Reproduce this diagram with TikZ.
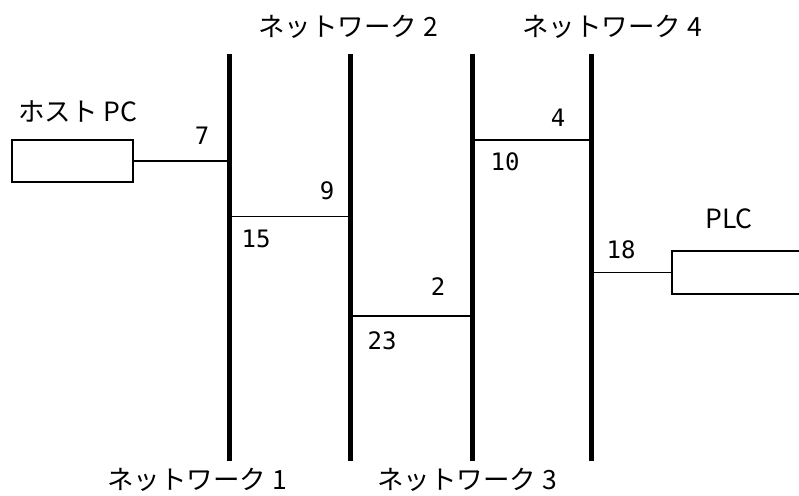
\documentclass[tikz,border=0pt]{standalone}
\usepackage{fontspec}
\newfontfamily\jp{Noto Sans CJK JP}
\newfontfamily\num{DejaVu Sans Mono}
\begin{document}
\begin{tikzpicture}[x=1pt,y=-1pt,
  bus/.style={line width=5pt},
  link/.style={line width=1.8pt},
  dev/.style={draw,line width=1.8pt,minimum width=121pt,minimum height=42pt,inner sep=0pt},
  lab/.style={font=\jp\fontsize{26.5}{30}\selectfont,inner sep=0pt},
  numlab/.style={font=\num\fontsize{24}{26}\selectfont,inner sep=0pt}]
\useasboundingbox (0,0) rectangle (799,495);
% buses
\foreach \n/\x in {1/229,2/350,3/472,4/591}{
  \coordinate (t\n) at (\x,54);
  \coordinate (b\n) at (\x,461);
  \draw[bus] (t\n) -- (b\n);
}
% devices
\node[dev] (host) at (72.5,161) {};
\node[dev,minimum width=140pt,minimum height=43pt] (plc) at (742,272.5) {};
% tap points
\coordinate (h1) at (229,161);
\coordinate (a1) at (229,216.5);
\coordinate (a2) at (350,216.5);
\coordinate (c2) at (350,316);
\coordinate (c3) at (472,316);
\coordinate (d3) at (472,140);
\coordinate (d4) at (591,140);
\coordinate (p4) at (591,272.5);
\draw[link] (host.east) -- (h1);
\draw[link] (a1) -- (a2);
\draw[link] (c2) -- (c3);
\draw[link] (d3) -- (d4);
\draw[link] (p4) -- (plc.west);
% labels
\node[lab] (lhost) at (78,112) {ホスト PC};
\node[lab] (lplc) at (729,219) {PLC};
\node[lab] (n2) at (348,27) {ネットワーク 2};
\node[lab] (n4) at (612,27) {ネットワーク 4};
\node[lab] (n1) at (197,480) {ネットワーク 1};
\node[lab] (n3) at (467,480) {ネットワーク 3};
% port numbers
\node[numlab] (p7) at (202,136) {7};
\node[numlab] (p9) at (327,191) {9};
\node[numlab] (p15) at (256,239) {15};
\node[numlab] (p2) at (438,287) {2};
\node[numlab] (p23) at (382,341) {23};
\node[numlab] (p4l) at (558,118) {4};
\node[numlab] (p10) at (505,162) {10};
\node[numlab] (p18) at (621,250) {18};
\end{tikzpicture}
\end{document}
